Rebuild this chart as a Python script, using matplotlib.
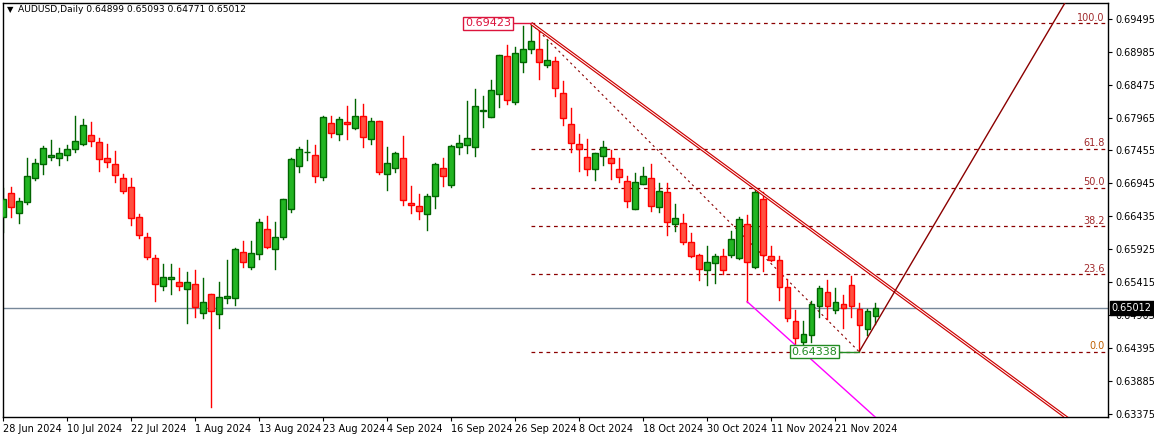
import matplotlib
matplotlib.use("Agg")
import matplotlib.pyplot as plt
import numpy as np

plt.rcParams["font.family"] = ["DejaVu Sans"]

# chart scale readings: price = TOP_TICK - (reading - 56) * STEP
TOP_TICK = 0.69495
STEP = 0.0000516

# open, high, low, close readings per daily bar (28 Jun 2024 onward)
bars = [
    (650, 565, 695, 598), (579, 561, 651, 620), (638, 594, 669, 603), (605, 474, 612, 528),
    (533, 478, 540, 490), (491, 437, 521, 444), (472, 420, 480, 465), (473, 444, 495, 460),
    (464, 435, 480, 448), (448, 348, 456, 423), (431, 357, 435, 376), (406, 367, 437, 424),
    (427, 414, 513, 476), (475, 432, 500, 485), (493, 453, 546, 526), (535, 522, 578, 572),
    (562, 534, 675, 653), (652, 642, 715, 704), (712, 699, 777, 770), (775, 765, 903, 853),
    (857, 793, 869, 831), (838, 793, 882, 832), (847, 804, 871, 857), (868, 816, 968, 847),
    (853, 810, 950, 922), (940, 834, 953, 907), (883, 883, 1222, 934), (943, 846, 983, 892),
    (895, 780, 909, 888), (895, 745, 914, 748), (757, 723, 800, 787), (800, 723, 806, 760),
    (763, 658, 776, 667), (688, 648, 743, 740), (746, 666, 806, 712), (710, 596, 718, 598),
    (628, 474, 635, 478), (499, 440, 515, 448), (456, 420, 480, 455), (466, 435, 545, 529),
    (532, 349, 541, 352), (370, 348, 410, 400), (403, 350, 420, 358), (367, 318, 416, 373),
    (383, 297, 387, 349), (349, 313, 440, 412), (418, 355, 432, 364), (364, 362, 521, 517),
    (523, 440, 569, 490), (505, 457, 515, 460), (475, 408, 616, 601), (609, 558, 640, 616),
    (619, 582, 656, 632), (643, 582, 691, 589), (589, 490, 623, 492), (505, 474, 557, 529),
    (556, 435, 560, 439), (442, 405, 462, 430), (436, 303, 458, 414), (440, 267, 467, 319),
    (333, 289, 380, 331), (352, 240, 352, 271), (283, 166, 320, 166), (169, 135, 311, 301),
    (307, 142, 311, 160), (187, 77, 215, 148), (148, 71, 160, 124), (148, 88, 236, 185),
    (196, 120, 200, 181), (183, 170, 287, 265), (280, 243, 374, 355), (373, 324, 455, 430),
    (432, 403, 512, 448), (472, 417, 524, 506), (506, 458, 540, 460), (468, 423, 494, 441),
    (474, 450, 537, 488), (507, 473, 545, 532), (544, 528, 620, 604), (626, 519, 626, 547),
    (552, 501, 552, 529), (535, 492, 633, 618), (622, 548, 636, 573), (577, 550, 706, 666),
    (673, 612, 692, 655), (668, 641, 731, 727), (727, 698, 771, 767), (766, 763, 840, 808),
    (811, 739, 856, 787), (790, 763, 850, 769), (769, 747, 822, 811), (764, 694, 771, 718),
    (773, 652, 776, 658), (673, 645, 905, 787), (800, 565, 805, 577), (598, 577, 814, 766),
    (769, 737, 783, 780), (781, 767, 900, 861), (862, 836, 963, 954), (962, 930, 1040, 1013),
    (1027, 963, 1040, 1003), (1006, 903, 1027, 913), (918, 858, 950, 865), (877, 840, 958, 917),
    (930, 864, 940, 907), (912, 885, 985, 925), (856, 827, 950, 918), (928, 909, 1052, 975),
    (988, 926, 1005, 934),
]
ohlc = TOP_TICK - (np.array(bars, dtype=float) - 56) * STEP
opens, highs, lows, closes = [list(c) for c in ohlc.T]
# last bar from the header
opens.append(0.64899); highs.append(0.65093); lows.append(0.64771); closes.append(0.65012)

date_labels = ["28 Jun 2024", "10 Jul 2024", "22 Jul 2024", "1 Aug 2024", "13 Aug 2024",
               "23 Aug 2024", "4 Sep 2024", "16 Sep 2024", "26 Sep 2024", "8 Oct 2024",
               "18 Oct 2024", "30 Oct 2024", "11 Nov 2024", "21 Nov 2024"]
price_ticks = [0.69495, 0.68985, 0.68475, 0.67965, 0.67455, 0.66945, 0.66435,
               0.65925, 0.65415, 0.64905, 0.64395, 0.63885, 0.63375]

fib_high, fib_low = 0.69423, 0.64338
fib_hi_idx, fib_lo_idx = 66, 107
fib_levels = [0.0, 23.6, 38.2, 50.0, 61.8, 100.0]
trend_idx2, trend_px2 = 94, highs[94]
spike_idx = 93

fig = plt.figure(figsize=(11.54, 4.38), dpi=100)
ax = fig.add_axes([3 / 1154, 21 / 438, 1105 / 1154, 414 / 438])
ax.set_xlim(0, 138.1)
ax.set_ylim(0.63328, 0.69738)

dark = "#8b0000"
# fibonacci levels
for lv in fib_levels:
    p = fib_low + (fib_high - fib_low) * lv / 100
    ax.plot([fib_hi_idx, 137.8], [p, p], color=dark, lw=0.9, ls=(0, (3, 3)), zorder=1)
    ax.text(137.7, p + 0.0001, f"{lv:.1f}", color="#a0282a" if lv else "#c06000",
            fontsize=7, ha="right", va="bottom", zorder=5)
ax.plot([fib_hi_idx, fib_lo_idx], [fib_high, fib_low], color=dark, lw=0.8,
        ls=(0, (2, 3)), zorder=1)

# current price line
ax.axhline(closes[-1], color="#778899", lw=1, zorder=1)

# candles
w = 0.66
for i, (o, h, l, c) in enumerate(zip(opens, highs, lows, closes)):
    up = c >= o
    edge = "#006400" if up else "#ff0000"
    fill = "#22b522" if up else "#ff5040"
    ax.plot([i, i], [l, h], color=edge, lw=1, zorder=2)
    lo_b, hi_b = min(o, c), max(o, c)
    ax.add_patch(plt.Rectangle((i - w / 2, lo_b), w, max(hi_b - lo_b, 0.00004),
                               facecolor=fill, edgecolor=edge, lw=1, zorder=3))

# trend line through the two highs (double line)
slope = (trend_px2 - fib_high) / (trend_idx2 - fib_hi_idx)
xs = np.array([fib_hi_idx, 160])
ys = fib_high + slope * (xs - fib_hi_idx)
ax.plot(xs, ys, color="#cc0000", lw=2.4, zorder=4, solid_capstyle="butt")
ax.plot(xs, ys, color="white", lw=0.7, zorder=4)

# rising line from the low
ax.plot([fib_lo_idx, 133], [fib_low, 0.69738 + 0.0006], color=dark, lw=1, zorder=4)
# magenta line from spike low
ax.plot([spike_idx, 109], [lows[spike_idx], 0.63328], color="#ff00ff", lw=1, zorder=4)

# price callouts
ax.plot([63.5, fib_hi_idx], [fib_high, fib_high], color="#dc143c", lw=1, zorder=5)
ax.text(63.5, fib_high, "0.69423", color="#dc143c", fontsize=8, ha="right", va="center",
        bbox=dict(boxstyle="square,pad=0.15", fc="white", ec="#dc143c", lw=1), zorder=6)
ax.plot([104.3, fib_lo_idx], [fib_low, fib_low], color="#228b22", lw=1, zorder=5)
ax.text(104.3, fib_low, "0.64338", color="#228b22", fontsize=8, ha="right", va="center",
        bbox=dict(boxstyle="square,pad=0.15", fc="white", ec="#228b22", lw=1), zorder=6)

# axes styling
for s in ["left", "top", "right", "bottom"]:
    ax.spines[s].set_color("black")
    ax.spines[s].set_linewidth(1)
ax.yaxis.tick_right()
ax.set_yticks(price_ticks)
ax.set_yticklabels([f"{t:.5f}" for t in price_ticks], fontsize=7)
ax.set_xticks(range(0, 8 * len(date_labels), 8))
ax.set_xticklabels(date_labels, fontsize=7, ha="left")
ax.tick_params(axis="x", length=3, pad=2)
ax.tick_params(axis="y", length=3, pad=2)
ax.text(1.0035, closes[-1], f"{closes[-1]:.5f}", transform=ax.get_yaxis_transform(),
        color="white", fontsize=7, va="center", ha="left", zorder=7, clip_on=False,
        bbox=dict(boxstyle="square,pad=0.2", fc="black", ec="black"))

fig.text(7 / 1154, 1 - 10 / 438, "▼", fontsize=6, va="center")
fig.text(18 / 1154, 1 - 10 / 438, "AUDUSD,Daily 0.64899 0.65093 0.64771 0.65012",
         fontsize=6.6, va="center")

fig.savefig("out.png", dpi=100)
